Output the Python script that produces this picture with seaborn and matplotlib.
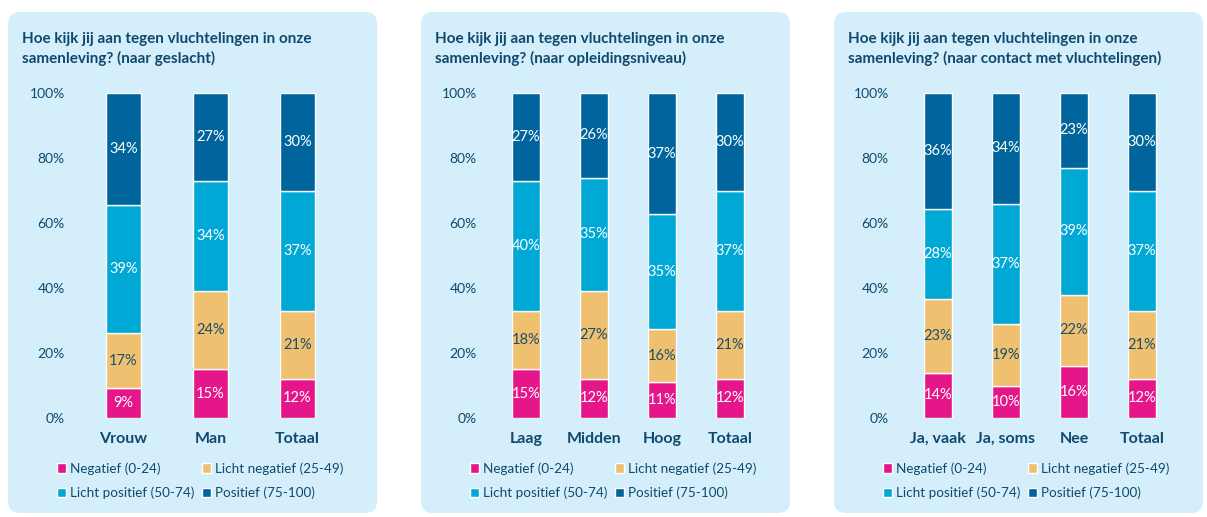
import numpy as np
import pandas as pd
import seaborn as sns
import matplotlib.pyplot as plt
from matplotlib.patches import FancyBboxPatch, Rectangle

sns.set_theme(style="white")
plt.rcParams['font.family'] = ['Lato', 'DejaVu Sans']

# data per panel: layers from bottom to top
layers = ['Negatief (0-24)', 'Licht negatief (25-49)', 'Licht positief (50-74)', 'Positief (75-100)']
colors = ['#e4168a', '#eec070', '#00a8d6', '#00659c']
text_colors = ['white', '#1d4f6e', 'white', 'white']

titles = [
    'Hoe kijk jij aan tegen vluchtelingen in onze\nsamenleving? (naar geslacht)',
    'Hoe kijk jij aan tegen vluchtelingen in onze\nsamenleving? (naar opleidingsniveau)',
    'Hoe kijk jij aan tegen vluchtelingen in onze\nsamenleving? (naar contact met vluchtelingen)',
]

cats_geslacht = ['Vrouw', 'Man', 'Totaal']
geslacht = [[9, 17, 39, 34], [15, 24, 34, 27], [12, 21, 37, 30]]

cats_opleiding = ['Laag', 'Midden', 'Hoog', 'Totaal']
opleiding = [[15, 18, 40, 27], [12, 27, 35, 26], [11, 16, 35, 37], [12, 21, 37, 30]]

cats_contact = ['Ja, vaak', 'Ja, soms', 'Nee', 'Totaal']
contact = [[14, 23, 28, 36], [10, 19, 37, 34], [16, 22, 39, 23], [12, 21, 37, 30]]

navy = '#0f4a6c'
fig = plt.figure(figsize=(12.07, 5.17), dpi=100)
W, H = 1207, 517

# panel backgrounds (pixels -> inches)
panels = [(8, 377), (421, 790), (834, 1203)]
for x0, x1 in panels:
    fig.patches.append(FancyBboxPatch((x0 / 100, 4 / 100), (x1 - x0) / 100, 5.01,
                                      boxstyle='round,pad=0,rounding_size=0.12',
                                      transform=fig.dpi_scale_trans,
                                      facecolor='#d5eefb', edgecolor='none', zorder=-5))

axes_px = [(80, 341), (492, 764), (904, 1176)]
widths = [0.4, 0.41, 0.41]
datasets = [(cats_geslacht, geslacht), (cats_opleiding, opleiding), (cats_contact, contact)]

for i, ((cats, vals), (l, r)) in enumerate(zip(datasets, axes_px)):
    ax = fig.add_axes([l / W, (H - 418) / H, (r - l) / W, (418 - 93) / H])
    ax.patch.set_alpha(0)
    arr = np.array(vals, dtype=float)
    share = arr / arr.sum(axis=1, keepdims=True) * 100
    bottom = np.zeros(len(cats))
    for k in range(len(layers)):
        sns.barplot(x=cats, y=share[:, k], bottom=bottom, color=colors[k],
                    width=widths[i], ax=ax, saturation=1)
        for j in range(len(cats)):
            ax.text(j, bottom[j] + share[j, k] / 2, f'{int(arr[j, k])}%',
                    ha='center', va='center', fontsize=10.5, color=text_colors[k])
        bottom = bottom + share[:, k]
    ax.set_ylim(0, 100)
    ax.set_xlim(-0.5, len(cats) - 0.5)
    ax.set_yticks([0, 20, 40, 60, 80, 100])
    ax.set_yticklabels([f'{t}%' for t in [0, 20, 40, 60, 80, 100]], fontsize=10, color=navy)
    ax.tick_params(axis='y', length=0, pad=11)
    ax.tick_params(axis='x', length=0, pad=10)
    for lab in ax.get_xticklabels():
        lab.set_fontweight('bold')
        lab.set_fontsize(11.5)
        lab.set_color(navy)
    for s in ax.spines.values():
        s.set_visible(False)
    ax.set_xlabel('')
    ax.set_ylabel('')

    x0 = panels[i][0]
    fig.text((x0 + 14) / W, (H - 32) / H, titles[i], ha='left', va='top',
             fontsize=11, fontweight='bold', color=navy, linespacing=1.45)

    handles = [Rectangle((0, 0), 1, 1, facecolor=c) for c in colors]
    order = [0, 2, 1, 3]
    fig.legend([handles[o] for o in order], [layers[o] for o in order],
               loc='upper left', ncol=2,
               bbox_to_anchor=((x0 + 49) / W, (H - 462) / H), frameon=False,
               fontsize=9.7, labelcolor=navy, handlelength=0.7, handleheight=0.7,
               handletextpad=0.3, columnspacing=0.5, borderaxespad=0, borderpad=0,
               labelspacing=0.9)

fig.savefig('out.png', dpi=100)
